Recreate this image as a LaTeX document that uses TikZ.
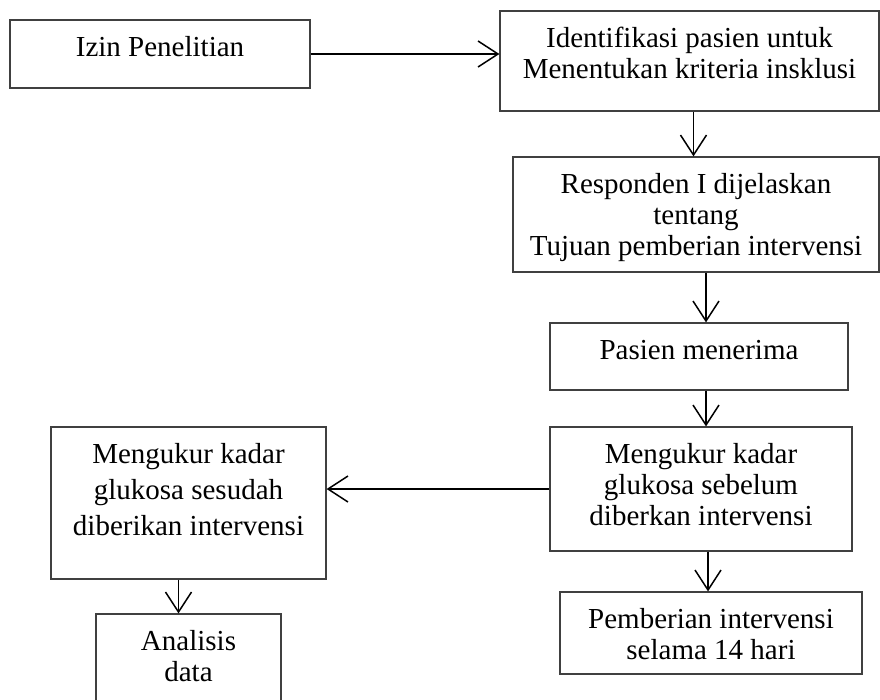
\documentclass[tikz,border=0pt]{standalone}
\usepackage{fontspec}
\setmainfont{Liberation Serif}
\usetikzlibrary{arrows.meta}
\newcommand{\flowtext}[3]{\parbox[c][#2][t]{#1}{\centering\fontsize{29}{31}\selectfont\vspace*{15pt}\strut #3}}
\tikzset{
  flowbox/.style={draw=black!75, line width=1.2pt, inner sep=0pt},
  flow/.style={-{Straight Barb[length=20pt,width=26pt,line width=1.5pt]}, line width=1.5pt}
}
\begin{document}
\begin{tikzpicture}[x=1pt,y=-1pt]
    \clip (0,0) rectangle (880,699);
    \node[flowbox] (izin) at (160,54) {\flowtext{300pt}{68pt}{Izin Penelitian}};
    \node[flowbox] (identifikasi) at (689.5,61) {\flowtext{379pt}{100pt}{Identifikasi pasien untuk\\ Menentukan kriteria insklusi}};
    \node[flowbox] (responden) at (696,214.5) {\flowtext{366pt}{115pt}{Responden I dijelaskan\\ tentang\\ Tujuan pemberian intervensi}};
    \node[flowbox] (pasien) at (699,356.5) {\flowtext{298pt}{67pt}{Pasien menerima}};
    \node[flowbox] (ukurpre) at (701,489) {\flowtext{302pt}{124pt}{Mengukur kadar\\ glukosa sebelum\\ diberkan intervensi}};
    \node[flowbox] (ukurpost) at (188.5,503) {\flowtext{275pt}{152pt}{Mengukur kadar\\[5pt] glukosa sesudah\\[5pt] diberikan intervensi}};
    \node[flowbox] (intervensi) at (711,633) {\flowtext{302pt}{82pt}{Pemberian intervensi\\ selama 14 hari}};
    \node[flowbox] (analisis) at (188.5,662) {\flowtext{185pt}{96pt}{Analisis\\ data}};
    % alur
    \draw[flow] (izin.east) -- (izin.east -| identifikasi.west);
    \draw[flow] ([xshift=4pt]identifikasi.south) -- ([xshift=4pt]identifikasi.south |- responden.north);
    \draw[flow] ([xshift=10pt]responden.south) -- ([xshift=10pt]responden.south |- pasien.north);
    \draw[flow] ([xshift=7pt]pasien.south) -- ([xshift=7pt]pasien.south |- ukurpre.north);
    \draw[flow] ([xshift=7pt]ukurpre.south) -- ([xshift=7pt]ukurpre.south |- intervensi.north);
    \draw[flow] (ukurpre.west) -- (ukurpre.west -| ukurpost.east);
    \draw[flow] ([xshift=-10pt]ukurpost.south) -- ([xshift=-10pt]ukurpost.south |- analisis.north);
\end{tikzpicture}
\end{document}
